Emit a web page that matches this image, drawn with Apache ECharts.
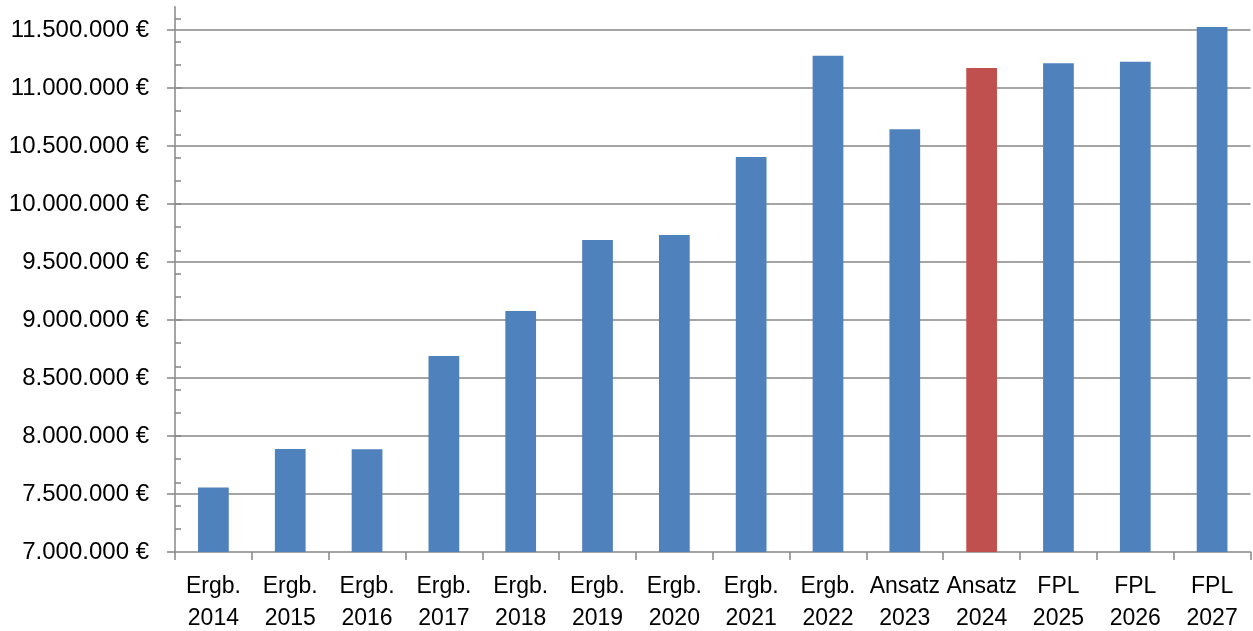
<!DOCTYPE html>
<html>
<head>
<meta charset="utf-8">
<script src="https://cdn.jsdelivr.net/npm/echarts@6/dist/echarts.min.js"></script>
<style>
html,body{margin:0;padding:0;background:#fff;}
#chart{width:1253px;height:631px;}
</style>
</head>
<body>
<div id="chart"></div>
<script>
var categories = ['Ergb.\n2014','Ergb.\n2015','Ergb.\n2016','Ergb.\n2017','Ergb.\n2018','Ergb.\n2019','Ergb.\n2020','Ergb.\n2021','Ergb.\n2022','Ansatz\n2023','Ansatz\n2024','FPL\n2025','FPL\n2026','FPL\n2027'];
var values = [7555000, 7888000, 7885000, 8690000, 9078000, 9690000, 9733000, 10405000, 11278000, 10644000, 11172000, 11213000, 11227000, 11526000];
var highlighted = ['Ansatz\n2024'];
var majorTicks = [7000000, 7500000, 8000000, 8500000, 9000000, 9500000, 10000000, 10500000, 11000000, 11500000];
var minorTicks = [7200000, 7400000, 7600000, 7800000, 8000000, 8200000, 8400000, 8600000, 8800000, 9000000, 9200000, 9400000, 9600000, 9800000, 10000000, 10200000, 10400000, 10600000, 10800000, 11000000, 11200000, 11400000, 11600000];
var yMin = 7000000, yMax = 11700000;

function fmt(v){
  var s = String(Math.round(v));
  return s.replace(/\B(?=(\d{3})+(?!\d))/g, '.') + ' €';
}

var gray = '#878787';
var chart = echarts.init(document.getElementById('chart'), null, {renderer:'canvas'});
chart.setOption({
  animation:false,
  backgroundColor:'#ffffff',
  grid:{left:175, right:2.5, top:6.8, bottom:79, containLabel:false, outerBoundsMode:'none'},
  xAxis:{
    type:'category',
    data:categories,
    boundaryGap:true,
    axisLine:{show:true, lineStyle:{color:gray, width:1.5}},
    axisTick:{show:true, inside:false, length:8, alignWithLabel:false, lineStyle:{color:gray, width:1.5}},
    axisLabel:{color:'#000', fontFamily:'Liberation Sans', fontSize:23, lineHeight:32, margin:19, interval:0},
    splitLine:{show:false}
  },
  yAxis:[{
    type:'value',
    min:yMin, max:yMax,
    interval:500000,
    axisLine:{show:true, lineStyle:{color:gray, width:1.5}},
    axisTick:{show:true, inside:false, length:8, customValues:majorTicks, lineStyle:{color:gray, width:1.5}},
    axisLabel:{color:'#000', fontFamily:'Liberation Sans', fontSize:24, margin:26, customValues:majorTicks, formatter:fmt},
    splitLine:{show:false}
  },{
    type:'value',
    min:yMin, max:yMax,
    position:'left',
    axisLine:{show:false},
    axisTick:{show:true, inside:true, length:6, customValues:minorTicks, lineStyle:{color:gray, width:1.5}},
    axisLabel:{show:false, customValues:minorTicks},
    splitLine:{show:false}
  }],
  series:[{
    type:'bar',
    yAxisIndex:0,
    barWidth:'40%',
    data:values.map(function(v,i){
      return {value:v, itemStyle:{color: highlighted.indexOf(categories[i])>=0 ? '#C0504D' : '#4F81BD'}};
    }),
    z:3,
    markLine:{
      silent:true,
      symbol:['none','none'],
      label:{show:false},
      lineStyle:{color:gray, width:1.5, type:'solid'},
      data:majorTicks.slice(1).map(function(v){return {yAxis:v};}),
      z:1
    }
  }]
});
</script>
</body>
</html>
